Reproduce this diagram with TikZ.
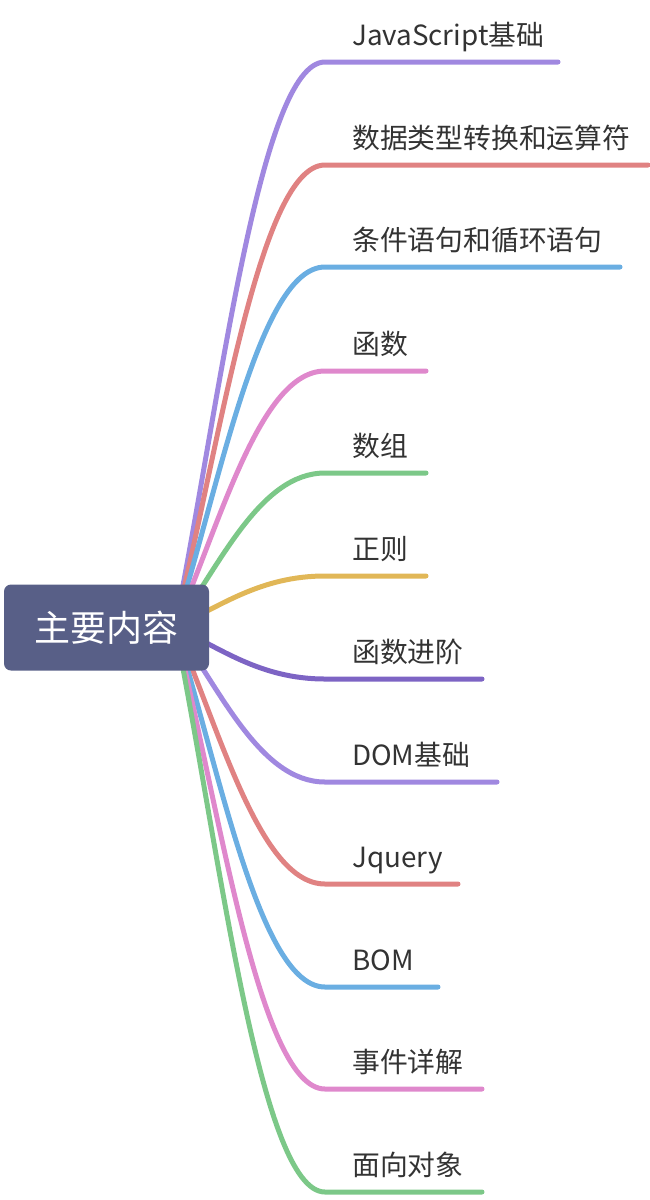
\documentclass[tikz,border=0pt]{standalone}
\usepackage{fontspec}
\setmainfont{Noto Sans CJK SC}
\definecolor{cpurple}{HTML}{A088E0}
\definecolor{cred}{HTML}{E08282}
\definecolor{cblue}{HTML}{6AAEE2}
\definecolor{cpink}{HTML}{DF88CC}
\definecolor{cgreen}{HTML}{7CC888}
\definecolor{cyellow}{HTML}{E1B757}
\definecolor{cdpurple}{HTML}{7D64C4}
\definecolor{rootcol}{HTML}{585F87}
\definecolor{textgray}{HTML}{333333}
\begin{document}
\begin{tikzpicture}[x=1pt,y=-1pt,
  branch/.style={line width=5pt, line cap=round},
  leaf/.style={anchor=base west, inner sep=0pt, font=\fontsize{27.8}{28}\selectfont, text=textgray},
  rootbox/.style={fill=rootcol, rounded corners=7pt, minimum width=205pt, minimum height=86pt, inner sep=0pt, text=white, font=\fontsize{36}{36}\selectfont}]
\useasboundingbox (0,0) rectangle (650,1200);
\coordinate (s) at (175,627);
\foreach \i/\y/\ex/\col/\txt in {
  1/62/558/cpurple/JavaScript基础,
  2/165/648/cred/数据类型转换和运算符,
  3/267/620/cblue/条件语句和循环语句,
  4/371/426/cpink/函数,
  5/473/426/cgreen/数组,
  6/576/426/cyellow/正则,
  7/679/482/cdpurple/函数进阶,
  8/782/497/cpurple/DOM基础,
  9/884/458/cred/Jquery,
  10/987/438/cblue/BOM,
  11/1089/482/cpink/事件详解,
  12/1192/482/cgreen/面向对象} {
  \pgfmathsetmacro\cy{627+0.4*(\y-627)}
  \coordinate (b\i) at (325,\y);
  \coordinate (e\i) at (\ex,\y);
  \draw[branch,\col] (s) .. controls (220,\cy) and (260,\y) .. (b\i) -- (e\i);
  \node[leaf] (t\i) at (352,\y-17) {\txt};
}
\node[rootbox] (root) at (106.5,627.5) {主要内容};
\end{tikzpicture}
\end{document}
